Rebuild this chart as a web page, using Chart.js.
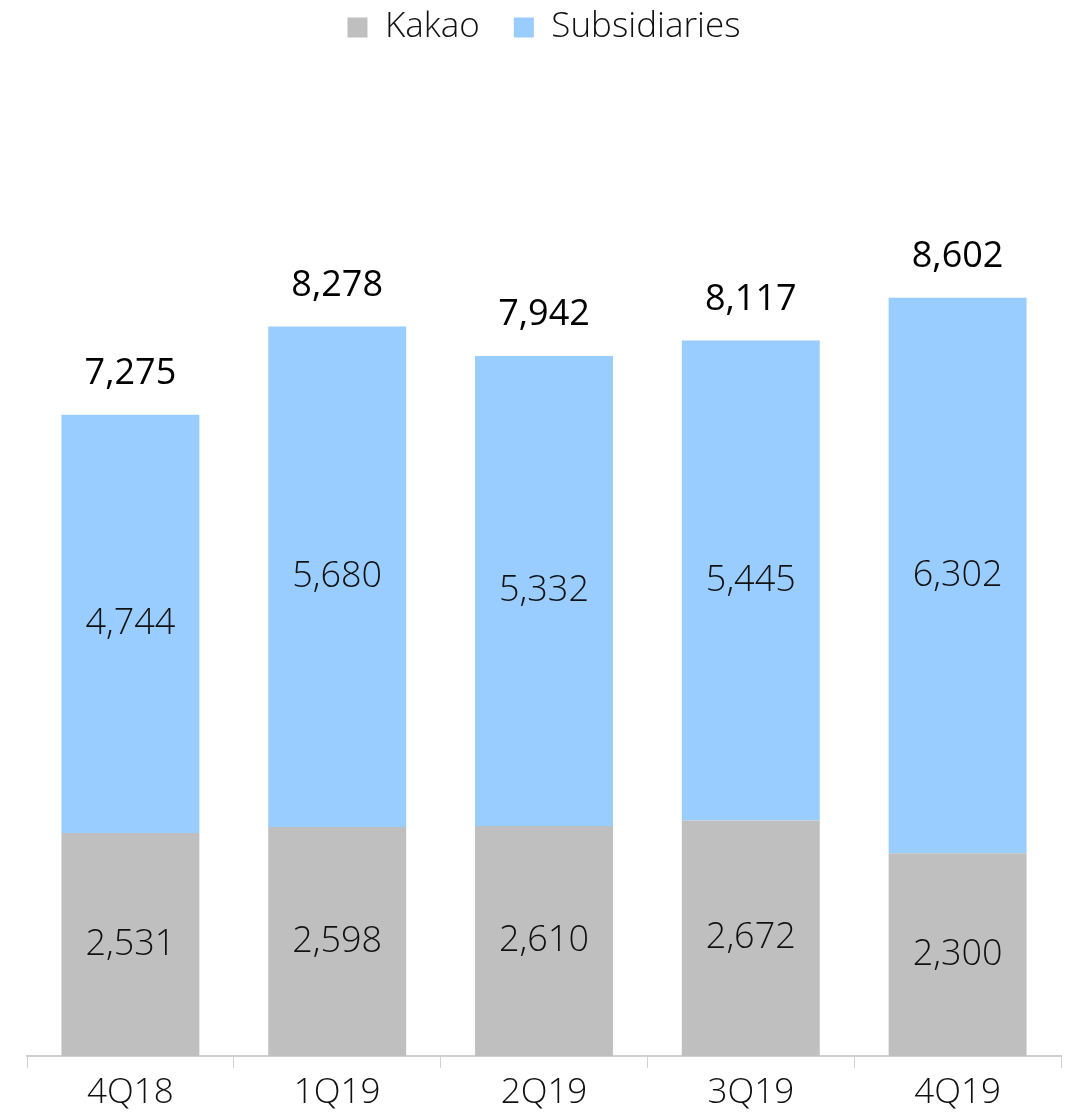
<!DOCTYPE html>
<html>
<head>
<meta charset="utf-8">
<script src="https://cdn.jsdelivr.net/npm/chart.js@4"></script>
<style>
  html, body { margin: 0; padding: 0; background: #fff; }
  #wrap { width: 1072px; height: 1119px; }
</style>
</head>
<body>
<div id="wrap"><canvas id="chart"></canvas></div>
<script>
const quarters = ["4Q18", "1Q19", "2Q19", "3Q19", "4Q19"];
const kakao = [2531, 2598, 2610, 2672, 2300];
const subsidiaries = [4744, 5680, 5332, 5445, 6302];
const totals = [7275, 8278, 7942, 8117, 8602];

const FONT = "'Open Sans', 'Noto Sans', sans-serif";

// labels inside segments + totals on top
const labelPlugin = {
  id: "barLabels",
  afterDatasetsDraw(chart) {
    const ctx = chart.ctx;
    ctx.save();
    ctx.textAlign = "center";
    ctx.textBaseline = "middle";
    ctx.font = "300 36px " + FONT;
    ctx.fillStyle = "#111";
    chart.data.datasets.forEach((ds, i) => {
      chart.getDatasetMeta(i).data.forEach((bar, j) => {
        const mid = (bar.y + bar.base) / 2;
        ctx.fillText(ds.data[j].toLocaleString("en-US"), bar.x, mid);
      });
    });
    const top = chart.getDatasetMeta(1).data;
    ctx.font = "36px " + FONT;
    ctx.fillStyle = "#000";
    top.forEach((bar, j) => {
      ctx.fillText(totals[j].toLocaleString("en-US"), bar.x, bar.y - 41);
    });
    ctx.restore();
  }
};

new Chart(document.getElementById("chart"), {
  type: "bar",
  data: {
    labels: quarters,
    datasets: [
      { label: "Kakao", data: kakao, backgroundColor: "#BFBFBF" },
      { label: "Subsidiaries", data: subsidiaries, backgroundColor: "#99CCFF" }
    ]
  },
  options: {
    responsive: true,
    maintainAspectRatio: false,
    animation: false,
    layout: { padding: { left: 27, right: 11, top: -24, bottom: 0 } },
    datasets: { bar: { categoryPercentage: 0.667, barPercentage: 1 } },
    plugins: {
      legend: {
        position: "top",
        labels: {
          font: { size: 35, family: FONT, weight: "300" },
          color: "#111",
          boxWidth: 20,
          boxHeight: 20,
          padding: 34
        }
      },
      tooltip: { enabled: false }
    },
    scales: {
      x: {
        stacked: true,
        grid: {
          display: true,
          drawOnChartArea: false,
          drawTicks: true,
          tickLength: 12,
          color: "#d0d0d0"
        },
        border: { display: true, color: "#d0d0d0", width: 2 },
        ticks: {
          font: { size: 35, family: FONT, weight: "300" },
          color: "#111",
          padding: 4.5
        }
      },
      y: {
        stacked: true,
        display: false,
        min: 0,
        max: 11357
      }
    }
  },
  plugins: [labelPlugin]
});
</script>
</body>
</html>
